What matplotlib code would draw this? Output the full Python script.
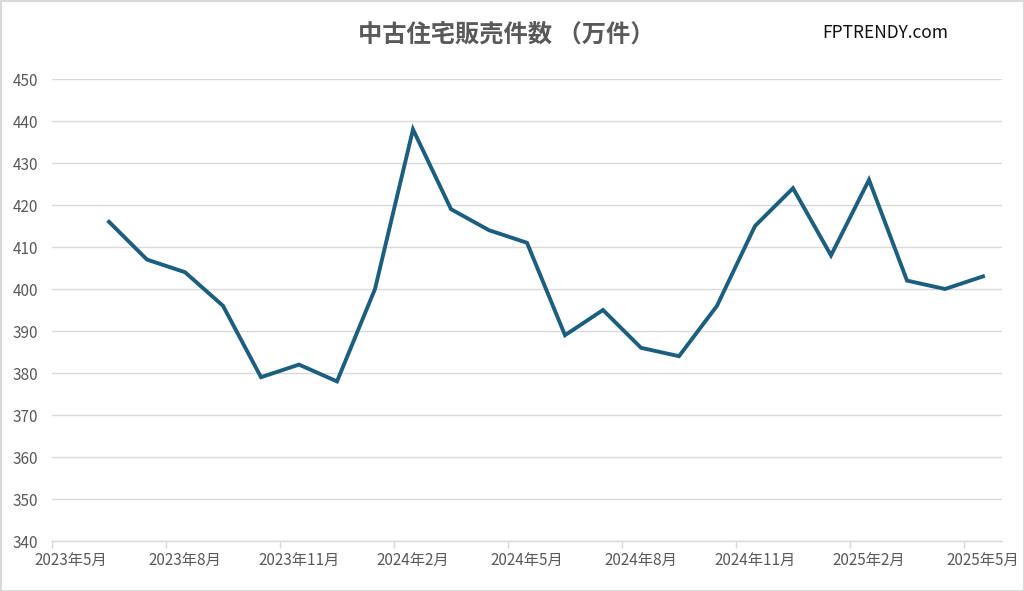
import matplotlib
matplotlib.use("Agg")
import matplotlib.pyplot as plt
from matplotlib.patches import Rectangle

plt.rcParams['font.family'] = ['Noto Sans CJK JP', 'DejaVu Sans']

months = ["2023年6月", "2023年7月", "2023年8月", "2023年9月", "2023年10月", "2023年11月",
          "2023年12月", "2024年1月", "2024年2月", "2024年3月", "2024年4月", "2024年5月",
          "2024年6月", "2024年7月", "2024年8月", "2024年9月", "2024年10月", "2024年11月",
          "2024年12月", "2025年1月", "2025年2月", "2025年3月", "2025年4月", "2025年5月"]
values = [416, 407, 404, 396, 379, 382, 378, 400, 438, 419, 414, 411,
          389, 395, 386, 384, 396, 415, 424, 408, 426, 402, 400, 403]
tick_labels = ["2023年5月", "2023年8月", "2023年11月", "2024年2月", "2024年5月",
               "2024年8月", "2024年11月", "2025年2月", "2025年5月"]
y_ticks = list(range(340, 451, 10))

fig = plt.figure(figsize=(10.24, 5.91), dpi=100)
ax = fig.add_axes([52/1024, 1-541/591, 950/1024, (541-79)/591])

x = list(range(1, len(values) + 1))
ax.plot(x, values, color='#1B5E7E', linewidth=2.8, solid_joinstyle='miter', zorder=3)

ax.set_xlim(-0.5, 24.5)
ax.set_ylim(340, 450)
ax.set_yticks(y_ticks)
ax.set_yticklabels([str(v) for v in y_ticks])
ax.set_xticks([i*3 for i in range(len(tick_labels))])
ax.set_xticklabels(tick_labels)
ax.set_xticks([i*3 - 0.5 for i in range(len(tick_labels))], minor=True)

ax.grid(axis='y', color='#D9D9D9', linewidth=1.0, zorder=0)
for s in ['left', 'right', 'top']:
    ax.spines[s].set_visible(False)
ax.spines['bottom'].set_color('#D9D9D9')
ax.spines['bottom'].set_linewidth(1.0)

ax.tick_params(axis='y', length=0, pad=10, labelsize=11, labelcolor='#595959')
ax.tick_params(axis='x', which='major', length=0, pad=8, labelsize=11, labelcolor='#595959')
ax.tick_params(axis='x', which='minor', length=5, width=1.0, color='#D9D9D9', direction='out')

fig.text(506/1024, 1-35/591, "中古住宅販売件数 （万件）", ha='center', va='center',
         fontsize=17.5, fontweight='bold', color='#595959')
fig.text(885/1024, 1-33/591, "FPTRENDY.com", ha='center', va='center',
         fontsize=12.5, color='#111111')

fig.patches.append(Rectangle((0.5/1024, 0.5/591), 1-1/1024, 1-1/591, transform=fig.transFigure,
                             fill=False, edgecolor='#D9D9D9', linewidth=1.5))

fig.savefig("out.png", dpi=100)
